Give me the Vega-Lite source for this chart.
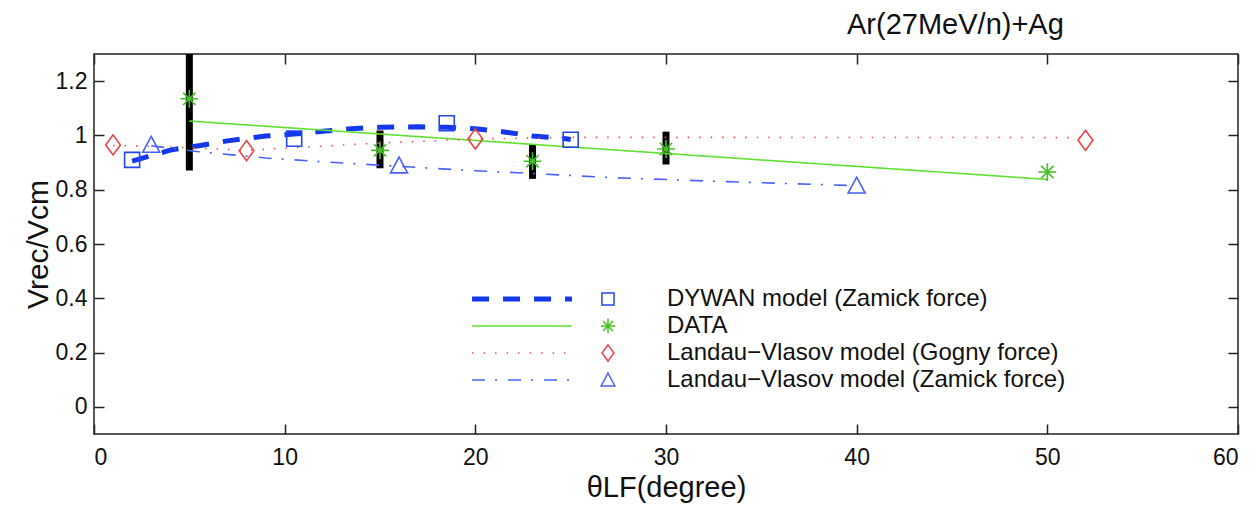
{
  "$schema": "https://vega.github.io/schema/vega-lite/v6.json",
  "width": 1144,
  "height": 380,
  "autosize": "none",
  "padding": {"left": 94, "top": 54, "right": 20, "bottom": 75},
  "background": "white",
  "title": {"text": "Ar(27MeV/n)+Ag", "anchor": "start", "dx": 824, "fontSize": 29, "font": "Liberation Sans", "fontWeight": "normal", "color": "#111111", "offset": 14},
  "config": {
    "view": {"stroke": "#222222", "strokeWidth": 1.5},
    "font": "Liberation Sans",
    "axisX": {"ticks": false, "domain": false,
      "grid": true, "gridColor": "#222222", "gridWidth": 1.5, "gridOpacity": 1, "gridDash": [10, 360, 10],
      "labelFontSize": 23, "labelColor": "#111111", "labelPadding": 12, "labelFont": "Liberation Sans",
      "titleFontSize": 29, "titleFontWeight": "normal", "titleColor": "#111111", "titleFont": "Liberation Sans", "titlePadding": 4},
    "axisY": {"ticks": false, "domain": false,
      "grid": true, "gridColor": "#222222", "gridWidth": 1.5, "gridOpacity": 1, "gridDash": [10, 1124, 10],
      "labelFontSize": 23, "labelColor": "#111111", "labelPadding": 7, "labelFont": "Liberation Sans",
      "titleFontSize": 30, "titleFontWeight": "normal", "titleColor": "#111111", "titleFont": "Liberation Sans", "titlePadding": 2}
  },
  "datasets": {
    "err": [
      {"x": 5, "lo": 0.871, "hi": 1.35},
      {"x": 15, "lo": 0.879, "hi": 1.018},
      {"x": 23, "lo": 0.84, "hi": 0.965},
      {"x": 30, "lo": 0.893, "hi": 1.014}
    ],
    "curves": [
      {"model": "DYWAN", "x": 2, "y": 0.905},
      {"model": "DYWAN", "x": 4, "y": 0.946},
      {"model": "DYWAN", "x": 5.5, "y": 0.962},
      {"model": "DYWAN", "x": 7, "y": 0.98},
      {"model": "DYWAN", "x": 9, "y": 0.998},
      {"model": "DYWAN", "x": 10.5, "y": 1.005},
      {"model": "DYWAN", "x": 12, "y": 1.015},
      {"model": "DYWAN", "x": 13.5, "y": 1.025},
      {"model": "DYWAN", "x": 15, "y": 1.03},
      {"model": "DYWAN", "x": 17, "y": 1.032},
      {"model": "DYWAN", "x": 18.5, "y": 1.03},
      {"model": "DYWAN", "x": 20, "y": 1.025},
      {"model": "DYWAN", "x": 21.5, "y": 1.013},
      {"model": "DYWAN", "x": 23, "y": 0.998},
      {"model": "DYWAN", "x": 24.5, "y": 0.99},
      {"model": "DYWAN", "x": 25, "y": 0.985},
      {"model": "DATA fit", "x": 5, "y": 1.053},
      {"model": "DATA fit", "x": 50, "y": 0.838},
      {"model": "LV Gogny", "x": 1, "y": 0.963},
      {"model": "LV Gogny", "x": 5, "y": 0.955},
      {"model": "LV Gogny", "x": 8, "y": 0.945},
      {"model": "LV Gogny", "x": 10, "y": 0.953},
      {"model": "LV Gogny", "x": 15, "y": 0.972},
      {"model": "LV Gogny", "x": 20, "y": 0.987},
      {"model": "LV Gogny", "x": 25, "y": 0.993},
      {"model": "LV Gogny", "x": 52, "y": 0.992},
      {"model": "LV Zamick", "x": 3, "y": 0.962},
      {"model": "LV Zamick", "x": 5.5, "y": 0.94},
      {"model": "LV Zamick", "x": 9, "y": 0.917},
      {"model": "LV Zamick", "x": 12, "y": 0.903},
      {"model": "LV Zamick", "x": 16, "y": 0.886},
      {"model": "LV Zamick", "x": 20, "y": 0.87},
      {"model": "LV Zamick", "x": 23.5, "y": 0.858},
      {"model": "LV Zamick", "x": 27, "y": 0.845},
      {"model": "LV Zamick", "x": 33, "y": 0.83},
      {"model": "LV Zamick", "x": 40, "y": 0.815}
    ],
    "pts": [
      {"series": "DYWAN model (Zamick force)", "x": 2, "y": 0.91},
      {"series": "DYWAN model (Zamick force)", "x": 10.5, "y": 0.988},
      {"series": "DYWAN model (Zamick force)", "x": 18.5, "y": 1.045},
      {"series": "DYWAN model (Zamick force)", "x": 25, "y": 0.984},
      {"series": "DATA", "x": 5, "y": 1.135},
      {"series": "DATA", "x": 15, "y": 0.945},
      {"series": "DATA", "x": 23, "y": 0.905},
      {"series": "DATA", "x": 30, "y": 0.95},
      {"series": "DATA", "x": 50, "y": 0.865},
      {"series": "Landau−Vlasov model (Gogny force)", "x": 1, "y": 0.965},
      {"series": "Landau−Vlasov model (Gogny force)", "x": 8, "y": 0.944},
      {"series": "Landau−Vlasov model (Gogny force)", "x": 20, "y": 0.987},
      {"series": "Landau−Vlasov model (Gogny force)", "x": 52, "y": 0.982},
      {"series": "Landau−Vlasov model (Zamick force)", "x": 3, "y": 0.965},
      {"series": "Landau−Vlasov model (Zamick force)", "x": 16, "y": 0.889},
      {"series": "Landau−Vlasov model (Zamick force)", "x": 40, "y": 0.815}
    ]
  },
  "layer": [
    {
      "data": {"name": "err"},
      "mark": {"type": "rule", "strokeWidth": 7, "color": "#000000", "clip": true},
      "encoding": {
        "x": {"field": "x", "type": "quantitative", "scale": {"domain": [0, 60], "nice": false, "zero": false}, "title": "θLF(degree)", "axis": {"values": [0, 10, 20, 30, 40, 50, 60]}},
        "y": {"field": "lo", "type": "quantitative", "scale": {"domain": [-0.1, 1.3], "nice": false, "zero": false}, "title": "Vrec/Vcm", "axis": {"values": [0, 0.2, 0.4, 0.6, 0.8, 1, 1.2], "format": "~g"}},
        "y2": {"field": "hi"}
      }
    },
    {
      "data": {"name": "curves"},
      "mark": {"type": "line", "clip": true},
      "encoding": {
        "x": {"field": "x", "type": "quantitative", "scale": {"domain": [0, 60], "nice": false, "zero": false}, "title": "θLF(degree)", "axis": {"values": [0, 10, 20, 30, 40, 50, 60]}},
        "y": {"field": "y", "type": "quantitative", "scale": {"domain": [-0.1, 1.3], "nice": false, "zero": false}, "title": "Vrec/Vcm", "axis": {"values": [0, 0.2, 0.4, 0.6, 0.8, 1, 1.2], "format": "~g"}},
        "color": {"field": "model", "type": "nominal",
          "scale": {"domain": ["DYWAN", "DATA fit", "LV Gogny", "LV Zamick"], "range": ["#1438f0", "#62e030", "#f05050", "#4a62ff"]},
          "legend": {"orient": "none", "legendX": 416, "legendY": 233, "title": null, "symbolType": "M-8,0H8", "symbolSize": 156, "labelExpr": "''", "labelFontSize": 24, "rowPadding": 3, "padding": 0, "labelOffset": 0}},
        "strokeDash": {"field": "model", "type": "nominal",
          "scale": {"domain": ["DYWAN", "DATA fit", "LV Gogny", "LV Zamick"], "range": [[17, 14], [1, 0], [1.5, 10], [13, 10, 2, 11]]},
          "legend": {"orient": "none", "legendX": 416, "legendY": 233, "title": null, "symbolType": "M-8,0H8", "symbolSize": 156, "labelExpr": "''", "labelFontSize": 24, "rowPadding": 3, "padding": 0, "labelOffset": 0}},
        "strokeWidth": {"field": "model", "type": "nominal",
          "scale": {"type": "ordinal", "domain": ["DYWAN", "DATA fit", "LV Gogny", "LV Zamick"], "range": [5, 1.6, 1.6, 1.6]},
          "legend": {"orient": "none", "legendX": 416, "legendY": 233, "title": null, "symbolType": "M-8,0H8", "symbolSize": 156, "labelExpr": "''", "labelFontSize": 24, "rowPadding": 3, "padding": 0, "labelOffset": 0}}
      }
    },
    {
      "data": {"name": "pts"},
      "mark": {"type": "point", "filled": false, "size": 240, "strokeWidth": 1.6, "opacity": 1},
      "encoding": {
        "x": {"field": "x", "type": "quantitative", "scale": {"domain": [0, 60], "nice": false, "zero": false}, "title": "θLF(degree)", "axis": {"values": [0, 10, 20, 30, 40, 50, 60]}},
        "y": {"field": "y", "type": "quantitative", "scale": {"domain": [-0.1, 1.3], "nice": false, "zero": false}, "title": "Vrec/Vcm", "axis": {"values": [0, 0.2, 0.4, 0.6, 0.8, 1, 1.2], "format": "~g"}},
        "stroke": {"field": "series", "type": "nominal",
          "scale": {"domain": ["DYWAN model (Zamick force)", "DATA", "Landau−Vlasov model (Gogny force)", "Landau−Vlasov model (Zamick force)"], "range": ["#2448f0", "#44c022", "#ee4444", "#4a62ff"]},
          "legend": {"orient": "none", "legendX": 502, "legendY": 233, "title": null, "symbolSize": 156, "labelFontSize": 24, "labelColor": "#111111", "labelFont": "Liberation Sans", "labelLimit": 0, "rowPadding": 3, "padding": 0, "labelOffset": 47}},
        "shape": {"field": "series", "type": "nominal",
          "scale": {"domain": ["DYWAN model (Zamick force)", "DATA", "Landau−Vlasov model (Gogny force)", "Landau−Vlasov model (Zamick force)"], "range": ["M-0.97,-0.97H0.97V0.97H-0.97Z", "M-1.15,0H1.15M0,-1.15V1.15M-0.8,-0.8L0.8,0.8M-0.8,0.8L0.8,-0.8", "M0,-1.3L0.95,0L0,1.3L-0.95,0Z", "M0,-1.1L1.1,0.95H-1.1Z"]},
          "legend": {"orient": "none", "legendX": 502, "legendY": 233, "title": null, "symbolSize": 156, "labelFontSize": 24, "labelColor": "#111111", "labelFont": "Liberation Sans", "labelLimit": 0, "rowPadding": 3, "padding": 0, "labelOffset": 47}}
      }
    }
  ]
}
